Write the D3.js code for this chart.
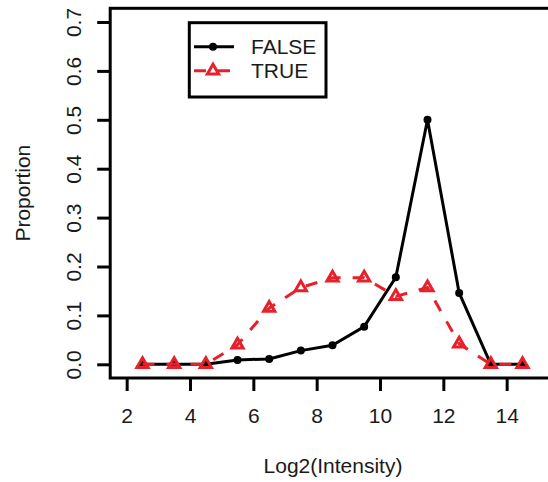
<!DOCTYPE html>
<html>
<head>
<meta charset="utf-8">
<script src="https://cdn.jsdelivr.net/npm/d3@7"></script>
<style>
  html, body { margin: 0; padding: 0; background: #fff; }
  svg { display: block; }
  text { font-family: "Liberation Sans", Arial, Helvetica, sans-serif; fill: #1a1a1a; }
</style>
</head>
<body>
<svg id="chart" width="548" height="482"></svg>
<script>
// Bin midpoints of log2 intensity
const bins = [2.5, 3.5, 4.5, 5.5, 6.5, 7.5, 8.5, 9.5, 10.5, 11.5, 12.5, 13.5, 14.5];
// Proportion of values falling in each bin, per group
const falseVals = [0, 0, 0, 0.009, 0.011, 0.028, 0.039, 0.077, 0.178, 0.500, 0.146, 0, 0];
const trueVals  = [0, 0, 0, 0.040, 0.115, 0.157, 0.177, 0.177, 0.139, 0.157, 0.042, 0, 0];
const xTicks = [2, 4, 6, 8, 10, 12, 14];
const yTicks = [0.0, 0.1, 0.2, 0.3, 0.4, 0.5, 0.6, 0.7];
const seriesNames = ["FALSE", "TRUE"];

const black = "#000";
const red = "#e8202a";
const fontSize = 21;

const svg = d3.select("#chart");

// Axis limits [2,15] x [0,0.7], each padded by 4% on both sides
const xlim = [2, 15], ylim = [0, 0.7];
const xpad = (xlim[1] - xlim[0]) * 0.04, ypad = (ylim[1] - ylim[0]) * 0.04;
const plotL = 110.2, plotR = 554.8, plotT = 8.3, plotB = 378;

const x = d3.scaleLinear().domain([xlim[0] - xpad, xlim[1] + xpad]).range([plotL, plotR]);
const y = d3.scaleLinear().domain([ylim[0] - ypad, ylim[1] + ypad]).range([plotB, plotT]);

// Axes with outward ticks
const xAxis = d3.axisBottom(x).tickValues(xTicks).tickSize(13).tickPadding(18)
  .tickFormat(d3.format("d"));
const yAxis = d3.axisLeft(y).tickValues(yTicks).tickSize(13).tickFormat(d3.format(".1f"));

const gx = svg.append("g").attr("transform", `translate(0,${plotB})`).call(xAxis);
gx.select(".domain").remove();
gx.selectAll(".tick line").attr("stroke", black).attr("stroke-width", 3);
gx.selectAll(".tick text").attr("font-size", fontSize).attr("fill", "#1a1a1a")
  .attr("dy", null).attr("y", 45);

const gy = svg.append("g").attr("transform", `translate(${plotL},0)`).call(yAxis);
gy.select(".domain").remove();
gy.selectAll(".tick line").attr("stroke", black).attr("stroke-width", 3);
gy.selectAll(".tick text").remove();
gy.selectAll(".tick").append("text")
  .attr("transform", `translate(${81 - plotL},0) rotate(-90)`)
  .attr("text-anchor", "middle")
  .attr("font-size", fontSize)
  .text(d => d3.format(".1f")(d));

// Plot frame
svg.append("rect")
  .attr("x", plotL).attr("y", plotT)
  .attr("width", plotR - plotL).attr("height", plotB - plotT)
  .attr("fill", "none").attr("stroke", black).attr("stroke-width", 3);

// Axis titles
svg.append("text")
  .attr("x", 333).attr("y", 473)
  .attr("text-anchor", "middle").attr("font-size", fontSize)
  .text("Log2(Intensity)");
svg.append("text")
  .attr("transform", `translate(30,${(y(0) + y(0.7)) / 2}) rotate(-90)`)
  .attr("text-anchor", "middle").attr("font-size", fontSize)
  .text("Proportion");

const line = d3.line().x(d => x(d[0])).y(d => y(d[1]));
const falsePts = bins.map((b, i) => [b, falseVals[i]]);
const truePts = bins.map((b, i) => [b, trueVals[i]]);

// Triangle marker (R pch 2 geometry) centred on a point
const triR = 6.5;
function triPath(cx, cy, r) {
  return `M${cx},${cy - r}L${cx + r * 0.866},${cy + r / 2}L${cx - r * 0.866},${cy + r / 2}Z`;
}

// FALSE: solid black line with filled dots
svg.append("path").datum(falsePts)
  .attr("d", line).attr("fill", "none")
  .attr("stroke", black).attr("stroke-width", 3).attr("stroke-linejoin", "round");
svg.append("g").selectAll("circle").data(falsePts).join("circle")
  .attr("cx", d => x(d[0])).attr("cy", d => y(d[1])).attr("r", 4).attr("fill", black);

// TRUE: dashed red line with open triangles
svg.append("path").datum(truePts)
  .attr("d", line).attr("fill", "none")
  .attr("stroke", red).attr("stroke-width", 3).attr("stroke-dasharray", "12,12");
svg.append("g").selectAll("path").data(truePts).join("path")
  .attr("d", d => triPath(x(d[0]), y(d[1]), triR))
  .attr("fill", "none").attr("stroke", red).attr("stroke-width", 3)
  .attr("stroke-linejoin", "miter");

// Legend
const lg = svg.append("g");
lg.append("rect").attr("x", 189.3).attr("y", 22.7).attr("width", 136.7).attr("height", 74.3)
  .attr("fill", "#fff").attr("stroke", black).attr("stroke-width", 3);
const legendRows = [
  { name: seriesNames[0], y: 46.7, color: black, dash: null, marker: "circle" },
  { name: seriesNames[1], y: 70.7, color: red, dash: "12,12", marker: "tri" }
];
legendRows.forEach(r => {
  lg.append("line").attr("x1", 194).attr("x2", 234).attr("y1", r.y).attr("y2", r.y)
    .attr("stroke", r.color).attr("stroke-width", 3).attr("stroke-dasharray", r.dash);
  if (r.marker === "circle") {
    lg.append("circle").attr("cx", 213).attr("cy", r.y).attr("r", 4).attr("fill", r.color);
  } else {
    lg.append("path").attr("d", triPath(213, r.y, triR))
      .attr("fill", "none").attr("stroke", r.color).attr("stroke-width", 3);
  }
  lg.append("text").attr("x", 251).attr("y", r.y + 7.5).attr("font-size", fontSize).text(r.name);
});
</script>
</body>
</html>
